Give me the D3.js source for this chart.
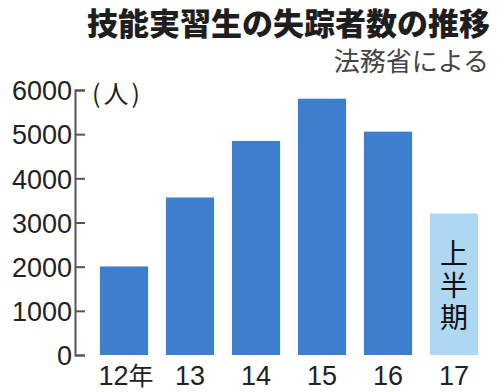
<!DOCTYPE html>
<html><head><meta charset="utf-8">
<script src="https://cdn.jsdelivr.net/npm/d3@7"></script>
<style>body{margin:0;background:#fff}svg{display:block}</style>
</head><body><svg id="c" width="500" height="392"></svg>
<script>
const categories = ["12年","13","14","15","16","17"];
const values = [2005, 3566, 4847, 5803, 5058, 3205];
const partial = [false,false,false,false,false,true];
const yTicks = [0,1000,2000,3000,4000,5000,6000];
const title = "技能実習生の失踪者数の推移";
const subtitle = "法務省による";
const unit = "(人)";
const partialLabel = "上半期";

const svg = d3.select("#c");
const x = d3.scaleBand().domain(categories).range([91,487]).paddingInner(0.27).paddingOuter(0.135);
const y = d3.scaleLinear().domain([0,6000]).range([355,90]);
const jp = "'Noto Sans CJK JP', sans-serif";
const num = "'Liberation Sans', Arial, sans-serif";

svg.append("text").attr("x",490).attr("y",35).attr("text-anchor","end")
  .attr("font-family",jp).attr("font-weight",900).attr("font-size",31).attr("fill","#1e1e1e").text(title);
svg.append("text").attr("x",489).attr("y",71).attr("text-anchor","end")
  .attr("font-family",jp).attr("font-size",26).attr("fill","#444").text(subtitle);

svg.append("g").selectAll("rect").data(values).join("rect")
  .attr("x",(d,i)=>x(categories[i])).attr("width",x.bandwidth())
  .attr("y",(d,i)=>y(d)).attr("height",d=>y(0)-y(d))
  .attr("fill",(d,i)=>partial[i]?"#aed7f2":"#3d7fcc");

const ax = svg.append("g").attr("transform","translate(75,0)")
  .call(d3.axisLeft(y).tickValues(yTicks).tickSize(-10).tickPadding(3).tickFormat(d3.format("d")));
ax.select(".domain").attr("stroke","#555").attr("stroke-width",2);
ax.selectAll(".tick line").attr("stroke","#555").attr("stroke-width",2);
ax.selectAll(".tick text").attr("font-family",num).attr("font-size",27).attr("fill","#222").attr("dy","0.36em");

svg.append("text").attr("x",92).attr("y",103).attr("font-family",jp).attr("font-size",25)
  .attr("letter-spacing",3).attr("fill","#222").text(unit);

svg.append("g").selectAll("text").data(categories).join("text")
  .attr("x",(d,i)=>x(d)+x.bandwidth()/2 + (i===0?2:0)).attr("y",385).attr("text-anchor","middle")
  .attr("font-family",num).attr("font-size",27).attr("fill","#222")
  .each(function(d){
    const t=d3.select(this);
    const m=d.match(/^(\d+)(.*)$/);
    t.append("tspan").text(m[1]);
    if(m[2]) t.append("tspan").attr("font-family",jp).attr("font-size",25).text(m[2]);
  });

const pi = partial.indexOf(true);
svg.append("text")
  .attr("x",x(categories[pi])+x.bandwidth()/2).attr("y",239)
  .style("writing-mode","vertical-rl").attr("letter-spacing",4)
  .attr("font-family",jp).attr("font-size",28).attr("fill","#111").text(partialLabel);
</script></body></html>
